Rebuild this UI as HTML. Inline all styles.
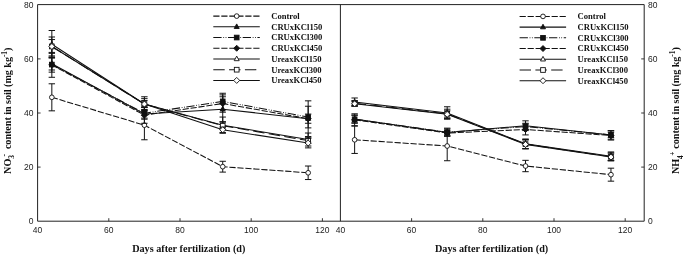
<!DOCTYPE html>
<html><head><meta charset="utf-8"><title>Soil N content</title>
<style>
html,body{margin:0;padding:0;background:#fff}
svg{display:block}
.tk{font-family:"Liberation Sans",sans-serif;font-size:8.5px;fill:#222}
.lg{font-family:"Liberation Serif",serif;font-weight:bold;font-size:8.6px;fill:#111}
.ax{font-family:"Liberation Serif",serif;font-weight:bold;font-size:10.2px;fill:#111}
.ss{font-size:7.4px}
</style></head><body>
<svg width="685" height="257" viewBox="0 0 685 257">
<rect width="685" height="257" fill="#fff"/>
<path d="M37.6 221.2V4.6H644.2V221.2H37.6M340.4 4.6V221.2" fill="none" stroke="#222" stroke-width="1"/>
<path d="M37.6 167.10h3M644.2 167.10h-3M37.6 113.00h3M644.2 113.00h-3M37.6 58.90h3M644.2 58.90h-3M108.80 221.2v-3M180.00 221.2v-3M251.20 221.2v-3M322.40 221.2v-3M411.60 221.2v-3M482.80 221.2v-3M554.00 221.2v-3M625.20 221.2v-3" stroke="#222" stroke-width="0.9" fill="none"/>
<text x="33.4" y="224.05" class="tk" text-anchor="end">0</text>
<text x="648.1" y="224.05" class="tk">0</text>
<text x="33.4" y="169.95" class="tk" text-anchor="end">20</text>
<text x="648.1" y="169.95" class="tk">20</text>
<text x="33.4" y="115.85" class="tk" text-anchor="end">40</text>
<text x="648.1" y="115.85" class="tk">40</text>
<text x="33.4" y="61.75" class="tk" text-anchor="end">60</text>
<text x="648.1" y="61.75" class="tk">60</text>
<text x="33.4" y="7.65" class="tk" text-anchor="end">80</text>
<text x="648.1" y="7.65" class="tk">80</text>
<text x="37.60" y="233.2" class="tk" text-anchor="middle">40</text>
<text x="108.80" y="233.2" class="tk" text-anchor="middle">60</text>
<text x="180.00" y="233.2" class="tk" text-anchor="middle">80</text>
<text x="251.20" y="233.2" class="tk" text-anchor="middle">100</text>
<text x="322.40" y="233.2" class="tk" text-anchor="middle">120</text>
<text x="340.40" y="233.2" class="tk" text-anchor="middle">40</text>
<text x="411.60" y="233.2" class="tk" text-anchor="middle">60</text>
<text x="482.80" y="233.2" class="tk" text-anchor="middle">80</text>
<text x="554.00" y="233.2" class="tk" text-anchor="middle">100</text>
<text x="625.20" y="233.2" class="tk" text-anchor="middle">120</text>
<text x="188.8" y="252.2" class="ax" text-anchor="middle">Days after fertilization (d)</text>
<text x="491.6" y="252.2" class="ax" text-anchor="middle">Days after fertilization (d)</text>
<text transform="translate(10.9 0) rotate(-90)" class="ax" letter-spacing="-0.06"><tspan x="-173.90" y="0">NO</tspan><tspan class="ss" dy="3.4">3</tspan><tspan class="ss" dx="-1.4" dy="-7.8">-</tspan><tspan x="-151.60" y="0"> content in soil (mg kg</tspan><tspan class="ss" dy="-4.4">-1</tspan><tspan dy="4.4">)</tspan></text>
<text transform="translate(679.2 0) rotate(-90)" class="ax" letter-spacing="-0.06"><tspan x="-174.10" y="0">NH</tspan><tspan class="ss" dy="3.4">4</tspan><tspan class="ss" dx="-0.4" dy="-7.8">+</tspan><tspan x="-151.20" y="0"> content in soil (mg kg</tspan><tspan class="ss" dy="-4.4">-1</tspan><tspan dy="4.4">)</tspan></text>
<path d="M51.84 83.79V110.84M48.64 83.79H55.04M48.64 110.84H55.04" stroke="#111" stroke-width="1" fill="none"/>
<path d="M144.40 110.57V139.78M141.20 110.57H147.60M141.20 139.78H147.60" stroke="#111" stroke-width="1" fill="none"/>
<path d="M222.72 161.28V172.10M219.52 161.28H225.92M219.52 172.10H225.92" stroke="#111" stroke-width="1" fill="none"/>
<path d="M308.16 166.02V179.54M304.96 166.02H311.36M304.96 179.54H311.36" stroke="#111" stroke-width="1" fill="none"/>
<polyline points="51.84,97.31 144.40,125.17 222.72,166.69 308.16,172.78" fill="none" stroke="#111" stroke-width="1.05" stroke-dasharray="6.2 1.8"/>
<circle cx="51.84" cy="97.31" r="2.35" fill="#fff" stroke="#111" stroke-width="0.9"/>
<circle cx="144.40" cy="125.17" r="2.35" fill="#fff" stroke="#111" stroke-width="0.9"/>
<circle cx="222.72" cy="166.69" r="2.35" fill="#fff" stroke="#111" stroke-width="0.9"/>
<circle cx="308.16" cy="172.78" r="2.35" fill="#fff" stroke="#111" stroke-width="0.9"/>
<path d="M51.84 57.55V69.99M48.64 57.55H55.04M48.64 69.99H55.04" stroke="#111" stroke-width="1" fill="none"/>
<path d="M144.40 110.02V118.14M141.20 110.02H147.60M141.20 118.14H147.60" stroke="#111" stroke-width="1" fill="none"/>
<path d="M222.72 96.77V121.66M219.52 96.77H225.92M219.52 121.66H225.92" stroke="#111" stroke-width="1" fill="none"/>
<path d="M308.16 100.83V136.53M304.96 100.83H311.36M304.96 136.53H311.36" stroke="#111" stroke-width="1" fill="none"/>
<polyline points="51.84,63.77 144.40,114.08 222.72,109.21 308.16,118.68" fill="none" stroke="#111" stroke-width="1.05"/>
<polygon points="51.84,60.87 54.34,65.47 49.34,65.47" fill="#111" stroke="#111" stroke-width="0.9"/>
<polygon points="144.40,111.18 146.90,115.78 141.90,115.78" fill="#111" stroke="#111" stroke-width="0.9"/>
<polygon points="222.72,106.31 225.22,110.91 220.22,110.91" fill="#111" stroke="#111" stroke-width="0.9"/>
<polygon points="308.16,115.78 310.66,120.38 305.66,120.38" fill="#111" stroke="#111" stroke-width="0.9"/>
<path d="M51.84 57.01V72.15M48.64 57.01H55.04M48.64 72.15H55.04" stroke="#111" stroke-width="1" fill="none"/>
<path d="M144.40 107.32V119.22M141.20 107.32H147.60M141.20 119.22H147.60" stroke="#111" stroke-width="1" fill="none"/>
<path d="M222.72 93.25V109.48M219.52 93.25H225.92M219.52 109.48H225.92" stroke="#111" stroke-width="1" fill="none"/>
<path d="M308.16 106.24V127.88M304.96 106.24H311.36M304.96 127.88H311.36" stroke="#111" stroke-width="1" fill="none"/>
<polyline points="51.84,64.58 144.40,113.27 222.72,101.37 308.16,117.06" fill="none" stroke="#111" stroke-width="1.05" stroke-dasharray="8.3 1.7 0.8 1.5 0.8 1.6"/>
<rect x="49.49" y="62.23" width="4.70" height="4.70" fill="#111" stroke="#111" stroke-width="0.9"/>
<rect x="142.05" y="110.92" width="4.70" height="4.70" fill="#111" stroke="#111" stroke-width="0.9"/>
<rect x="220.37" y="99.02" width="4.70" height="4.70" fill="#111" stroke="#111" stroke-width="0.9"/>
<rect x="305.81" y="114.71" width="4.70" height="4.70" fill="#111" stroke="#111" stroke-width="0.9"/>
<path d="M51.84 52.41V77.29M48.64 52.41H55.04M48.64 77.29H55.04" stroke="#111" stroke-width="1" fill="none"/>
<path d="M144.40 107.05V123.28M141.20 107.05H147.60M141.20 123.28H147.60" stroke="#111" stroke-width="1" fill="none"/>
<path d="M222.72 94.88V112.19M219.52 94.88H225.92M219.52 112.19H225.92" stroke="#111" stroke-width="1" fill="none"/>
<path d="M308.16 114.08V123.28M304.96 114.08H311.36M304.96 123.28H311.36" stroke="#111" stroke-width="1" fill="none"/>
<polyline points="51.84,64.85 144.40,115.16 222.72,103.53 308.16,118.68" fill="none" stroke="#111" stroke-width="1.05" stroke-dasharray="6.2 1.8"/>
<polygon points="51.84,61.85 54.84,64.85 51.84,67.85 48.84,64.85" fill="#111" stroke="#111" stroke-width="0.9"/>
<polygon points="144.40,112.16 147.40,115.16 144.40,118.16 141.40,115.16" fill="#111" stroke="#111" stroke-width="0.9"/>
<polygon points="222.72,100.53 225.72,103.53 222.72,106.53 219.72,103.53" fill="#111" stroke="#111" stroke-width="0.9"/>
<polygon points="308.16,115.68 311.16,118.68 308.16,121.68 305.16,118.68" fill="#111" stroke="#111" stroke-width="0.9"/>
<path d="M51.84 30.50V58.09M48.64 30.50H55.04M48.64 58.09H55.04" stroke="#111" stroke-width="1" fill="none"/>
<path d="M144.40 96.77V111.11M141.20 96.77H147.60M141.20 111.11H147.60" stroke="#111" stroke-width="1" fill="none"/>
<path d="M222.72 117.06V133.29M219.52 117.06H225.92M219.52 133.29H225.92" stroke="#111" stroke-width="1" fill="none"/>
<path d="M308.16 133.02V146.00M304.96 133.02H311.36M304.96 146.00H311.36" stroke="#111" stroke-width="1" fill="none"/>
<polyline points="51.84,44.29 144.40,103.94 222.72,125.17 308.16,139.51" fill="none" stroke="#111" stroke-width="1.05"/>
<polygon points="51.84,41.39 54.34,45.99 49.34,45.99" fill="#fff" stroke="#111" stroke-width="0.9"/>
<polygon points="144.40,101.04 146.90,105.64 141.90,105.64" fill="#fff" stroke="#111" stroke-width="0.9"/>
<polygon points="222.72,122.27 225.22,126.87 220.22,126.87" fill="#fff" stroke="#111" stroke-width="0.9"/>
<polygon points="308.16,136.61 310.66,141.21 305.66,141.21" fill="#fff" stroke="#111" stroke-width="0.9"/>
<path d="M51.84 36.99V55.92M48.64 36.99H55.04M48.64 55.92H55.04" stroke="#111" stroke-width="1" fill="none"/>
<path d="M144.40 98.66V109.48M141.20 98.66H147.60M141.20 109.48H147.60" stroke="#111" stroke-width="1" fill="none"/>
<path d="M222.72 122.20V129.23M219.52 122.20H225.92M219.52 129.23H225.92" stroke="#111" stroke-width="1" fill="none"/>
<path d="M308.16 137.89V143.30M304.96 137.89H311.36M304.96 143.30H311.36" stroke="#111" stroke-width="1" fill="none"/>
<polyline points="51.84,46.46 144.40,104.07 222.72,125.71 308.16,140.59" fill="none" stroke="#111" stroke-width="1.05" stroke-dasharray="11.4 4.4"/>
<rect x="49.49" y="44.11" width="4.70" height="4.70" fill="#fff" stroke="#111" stroke-width="0.9"/>
<rect x="142.05" y="101.72" width="4.70" height="4.70" fill="#fff" stroke="#111" stroke-width="0.9"/>
<rect x="220.37" y="123.36" width="4.70" height="4.70" fill="#fff" stroke="#111" stroke-width="0.9"/>
<rect x="305.81" y="138.24" width="4.70" height="4.70" fill="#fff" stroke="#111" stroke-width="0.9"/>
<path d="M51.84 39.56V53.35M48.64 39.56H55.04M48.64 53.35H55.04" stroke="#111" stroke-width="1" fill="none"/>
<path d="M144.40 100.56V107.59M141.20 100.56H147.60M141.20 107.59H147.60" stroke="#111" stroke-width="1" fill="none"/>
<path d="M222.72 127.07V132.48M219.52 127.07H225.92M219.52 132.48H225.92" stroke="#111" stroke-width="1" fill="none"/>
<path d="M308.16 138.16V147.89M304.96 138.16H311.36M304.96 147.89H311.36" stroke="#111" stroke-width="1" fill="none"/>
<polyline points="51.84,46.46 144.40,104.07 222.72,129.77 308.16,143.03" fill="none" stroke="#111" stroke-width="1.05"/>
<polygon points="51.84,43.46 54.84,46.46 51.84,49.46 48.84,46.46" fill="#fff" stroke="#111" stroke-width="0.9"/>
<polygon points="144.40,101.07 147.40,104.07 144.40,107.07 141.40,104.07" fill="#fff" stroke="#111" stroke-width="0.9"/>
<polygon points="222.72,126.77 225.72,129.77 222.72,132.77 219.72,129.77" fill="#fff" stroke="#111" stroke-width="0.9"/>
<polygon points="308.16,140.03 311.16,143.03 308.16,146.03 305.16,143.03" fill="#fff" stroke="#111" stroke-width="0.9"/>
<path d="M354.64 126.12V153.44M351.44 126.12H357.84M351.44 153.44H357.84" stroke="#111" stroke-width="1" fill="none"/>
<path d="M447.20 131.26V160.74M444.00 131.26H450.40M444.00 160.74H450.40" stroke="#111" stroke-width="1" fill="none"/>
<path d="M525.52 160.34V171.70M522.32 160.34H528.72M522.32 171.70H528.72" stroke="#111" stroke-width="1" fill="none"/>
<path d="M610.96 168.18V181.17M607.76 168.18H614.16M607.76 181.17H614.16" stroke="#111" stroke-width="1" fill="none"/>
<polyline points="354.64,139.78 447.20,146.00 525.52,166.02 610.96,174.67" fill="none" stroke="#111" stroke-width="1.05" stroke-dasharray="6.2 1.8"/>
<circle cx="354.64" cy="139.78" r="2.35" fill="#fff" stroke="#111" stroke-width="0.9"/>
<circle cx="447.20" cy="146.00" r="2.35" fill="#fff" stroke="#111" stroke-width="0.9"/>
<circle cx="525.52" cy="166.02" r="2.35" fill="#fff" stroke="#111" stroke-width="0.9"/>
<circle cx="610.96" cy="174.67" r="2.35" fill="#fff" stroke="#111" stroke-width="0.9"/>
<path d="M354.64 115.16V122.74M351.44 115.16H357.84M351.44 122.74H357.84" stroke="#111" stroke-width="1" fill="none"/>
<path d="M447.20 128.96V135.99M444.00 128.96H450.40M444.00 135.99H450.40" stroke="#111" stroke-width="1" fill="none"/>
<path d="M525.52 120.84V130.58M522.32 120.84H528.72M522.32 130.58H528.72" stroke="#111" stroke-width="1" fill="none"/>
<path d="M610.96 130.58V139.24M607.76 130.58H614.16M607.76 139.24H614.16" stroke="#111" stroke-width="1" fill="none"/>
<polyline points="354.64,118.95 447.20,132.48 525.52,125.71 610.96,134.91" fill="none" stroke="#111" stroke-width="1.05"/>
<polygon points="354.64,116.05 357.14,120.65 352.14,120.65" fill="#111" stroke="#111" stroke-width="0.9"/>
<polygon points="447.20,129.58 449.70,134.18 444.70,134.18" fill="#111" stroke="#111" stroke-width="0.9"/>
<polygon points="525.52,122.81 528.02,127.41 523.02,127.41" fill="#111" stroke="#111" stroke-width="0.9"/>
<polygon points="610.96,132.01 613.46,136.61 608.46,136.61" fill="#111" stroke="#111" stroke-width="0.9"/>
<path d="M354.64 115.16V123.28M351.44 115.16H357.84M351.44 123.28H357.84" stroke="#111" stroke-width="1" fill="none"/>
<path d="M447.20 128.15V136.26M444.00 128.15H450.40M444.00 136.26H450.40" stroke="#111" stroke-width="1" fill="none"/>
<path d="M525.52 123.28V129.77M522.32 123.28H528.72M522.32 129.77H528.72" stroke="#111" stroke-width="1" fill="none"/>
<path d="M610.96 132.21V137.62M607.76 132.21H614.16M607.76 137.62H614.16" stroke="#111" stroke-width="1" fill="none"/>
<polyline points="354.64,119.22 447.20,132.21 525.52,126.52 610.96,134.91" fill="none" stroke="#111" stroke-width="1.05" stroke-dasharray="8.3 1.7 0.8 1.5 0.8 1.6"/>
<rect x="352.29" y="116.87" width="4.70" height="4.70" fill="#111" stroke="#111" stroke-width="0.9"/>
<rect x="444.85" y="129.86" width="4.70" height="4.70" fill="#111" stroke="#111" stroke-width="0.9"/>
<rect x="523.17" y="124.17" width="4.70" height="4.70" fill="#111" stroke="#111" stroke-width="0.9"/>
<rect x="608.61" y="132.56" width="4.70" height="4.70" fill="#111" stroke="#111" stroke-width="0.9"/>
<path d="M354.64 113.81V125.71M351.44 113.81H357.84M351.44 125.71H357.84" stroke="#111" stroke-width="1" fill="none"/>
<path d="M447.20 130.31V135.72M444.00 130.31H450.40M444.00 135.72H450.40" stroke="#111" stroke-width="1" fill="none"/>
<path d="M525.52 124.09V134.91M522.32 124.09H528.72M522.32 134.91H528.72" stroke="#111" stroke-width="1" fill="none"/>
<path d="M610.96 130.85V140.05M607.76 130.85H614.16M607.76 140.05H614.16" stroke="#111" stroke-width="1" fill="none"/>
<polyline points="354.64,119.76 447.20,133.02 525.52,129.50 610.96,135.45" fill="none" stroke="#111" stroke-width="1.05" stroke-dasharray="6.2 1.8"/>
<polygon points="354.64,116.76 357.64,119.76 354.64,122.76 351.64,119.76" fill="#111" stroke="#111" stroke-width="0.9"/>
<polygon points="447.20,130.02 450.20,133.02 447.20,136.02 444.20,133.02" fill="#111" stroke="#111" stroke-width="0.9"/>
<polygon points="525.52,126.50 528.52,129.50 525.52,132.50 522.52,129.50" fill="#111" stroke="#111" stroke-width="0.9"/>
<polygon points="610.96,132.45 613.96,135.45 610.96,138.45 607.96,135.45" fill="#111" stroke="#111" stroke-width="0.9"/>
<path d="M354.64 97.99V105.83M351.44 97.99H357.84M351.44 105.83H357.84" stroke="#111" stroke-width="1" fill="none"/>
<path d="M447.20 106.78V119.22M444.00 106.78H450.40M444.00 119.22H450.40" stroke="#111" stroke-width="1" fill="none"/>
<path d="M525.52 138.97V148.71M522.32 138.97H528.72M522.32 148.71H528.72" stroke="#111" stroke-width="1" fill="none"/>
<path d="M610.96 151.95V160.61M607.76 151.95H614.16M607.76 160.61H614.16" stroke="#111" stroke-width="1" fill="none"/>
<polyline points="354.64,101.91 447.20,113.00 525.52,143.84 610.96,156.28" fill="none" stroke="#111" stroke-width="1.05"/>
<polygon points="354.64,99.01 357.14,103.61 352.14,103.61" fill="#fff" stroke="#111" stroke-width="0.9"/>
<polygon points="447.20,110.10 449.70,114.70 444.70,114.70" fill="#fff" stroke="#111" stroke-width="0.9"/>
<polygon points="525.52,140.94 528.02,145.54 523.02,145.54" fill="#fff" stroke="#111" stroke-width="0.9"/>
<polygon points="610.96,153.38 613.46,157.98 608.46,157.98" fill="#fff" stroke="#111" stroke-width="0.9"/>
<path d="M354.64 100.56V105.97M351.44 100.56H357.84M351.44 105.97H357.84" stroke="#111" stroke-width="1" fill="none"/>
<path d="M447.20 109.21V118.41M444.00 109.21H450.40M444.00 118.41H450.40" stroke="#111" stroke-width="1" fill="none"/>
<path d="M525.52 139.51V148.71M522.32 139.51H528.72M522.32 148.71H528.72" stroke="#111" stroke-width="1" fill="none"/>
<path d="M610.96 152.76V160.88M607.76 152.76H614.16M607.76 160.88H614.16" stroke="#111" stroke-width="1" fill="none"/>
<polyline points="354.64,103.26 447.20,113.81 525.52,144.11 610.96,156.82" fill="none" stroke="#111" stroke-width="1.05" stroke-dasharray="11.4 4.4"/>
<rect x="352.29" y="100.91" width="4.70" height="4.70" fill="#fff" stroke="#111" stroke-width="0.9"/>
<rect x="444.85" y="111.46" width="4.70" height="4.70" fill="#fff" stroke="#111" stroke-width="0.9"/>
<rect x="523.17" y="141.76" width="4.70" height="4.70" fill="#fff" stroke="#111" stroke-width="0.9"/>
<rect x="608.61" y="154.47" width="4.70" height="4.70" fill="#fff" stroke="#111" stroke-width="0.9"/>
<path d="M354.64 101.37V106.24M351.44 101.37H357.84M351.44 106.24H357.84" stroke="#111" stroke-width="1" fill="none"/>
<path d="M447.20 110.84V117.87M444.00 110.84H450.40M444.00 117.87H450.40" stroke="#111" stroke-width="1" fill="none"/>
<path d="M525.52 140.05V148.71M522.32 140.05H528.72M522.32 148.71H528.72" stroke="#111" stroke-width="1" fill="none"/>
<path d="M610.96 153.85V160.34M607.76 153.85H614.16M607.76 160.34H614.16" stroke="#111" stroke-width="1" fill="none"/>
<polyline points="354.64,103.80 447.20,114.35 525.52,144.38 610.96,157.09" fill="none" stroke="#111" stroke-width="1.05"/>
<polygon points="354.64,100.80 357.64,103.80 354.64,106.80 351.64,103.80" fill="#fff" stroke="#111" stroke-width="0.9"/>
<polygon points="447.20,111.35 450.20,114.35 447.20,117.35 444.20,114.35" fill="#fff" stroke="#111" stroke-width="0.9"/>
<polygon points="525.52,141.38 528.52,144.38 525.52,147.38 522.52,144.38" fill="#fff" stroke="#111" stroke-width="0.9"/>
<polygon points="610.96,154.09 613.96,157.09 610.96,160.09 607.96,157.09" fill="#fff" stroke="#111" stroke-width="0.9"/>
<line x1="213.30" y1="16.10" x2="259.80" y2="16.10" stroke="#111" stroke-width="1.05" stroke-dasharray="6.2 1.8"/>
<circle cx="236.70" cy="16.10" r="2.35" fill="#fff" stroke="#111" stroke-width="0.9"/>
<text x="271.20" y="19.00" class="lg">Control</text>
<line x1="213.30" y1="26.82" x2="259.80" y2="26.82" stroke="#111" stroke-width="1.05"/>
<polygon points="236.70,23.92 239.20,28.52 234.20,28.52" fill="#111" stroke="#111" stroke-width="0.9"/>
<text x="271.20" y="29.72" class="lg">CRUxKCl150</text>
<line x1="213.30" y1="37.54" x2="259.80" y2="37.54" stroke="#111" stroke-width="1.05" stroke-dasharray="8.3 1.7 0.8 1.5 0.8 1.6"/>
<rect x="234.35" y="35.19" width="4.70" height="4.70" fill="#111" stroke="#111" stroke-width="0.9"/>
<text x="271.20" y="40.44" class="lg">CRUxKCl300</text>
<line x1="213.30" y1="48.26" x2="259.80" y2="48.26" stroke="#111" stroke-width="1.05" stroke-dasharray="6.2 1.8"/>
<polygon points="236.70,45.26 239.70,48.26 236.70,51.26 233.70,48.26" fill="#111" stroke="#111" stroke-width="0.9"/>
<text x="271.20" y="51.16" class="lg">CRUxKCl450</text>
<line x1="213.30" y1="58.98" x2="259.80" y2="58.98" stroke="#111" stroke-width="1.05"/>
<polygon points="236.70,56.08 239.20,60.68 234.20,60.68" fill="#fff" stroke="#111" stroke-width="0.9"/>
<text x="271.20" y="61.88" class="lg">UreaxKCl150</text>
<line x1="213.30" y1="69.70" x2="259.80" y2="69.70" stroke="#111" stroke-width="1.05" stroke-dasharray="11.4 4.4"/>
<rect x="234.35" y="67.35" width="4.70" height="4.70" fill="#fff" stroke="#111" stroke-width="0.9"/>
<text x="271.20" y="72.60" class="lg">UreaxKCl300</text>
<line x1="213.30" y1="80.42" x2="259.80" y2="80.42" stroke="#111" stroke-width="1.05"/>
<polygon points="236.70,77.42 239.70,80.42 236.70,83.42 233.70,80.42" fill="#fff" stroke="#111" stroke-width="0.9"/>
<text x="271.20" y="83.32" class="lg">UreaxKCl450</text>
<line x1="519.60" y1="16.40" x2="566.10" y2="16.40" stroke="#111" stroke-width="1.05" stroke-dasharray="6.2 1.8"/>
<circle cx="543.00" cy="16.40" r="2.35" fill="#fff" stroke="#111" stroke-width="0.9"/>
<text x="577.50" y="19.30" class="lg">Control</text>
<line x1="519.60" y1="27.12" x2="566.10" y2="27.12" stroke="#111" stroke-width="1.05"/>
<polygon points="543.00,24.22 545.50,28.82 540.50,28.82" fill="#111" stroke="#111" stroke-width="0.9"/>
<text x="577.50" y="30.02" class="lg">CRUxKCl150</text>
<line x1="519.60" y1="37.84" x2="566.10" y2="37.84" stroke="#111" stroke-width="1.05" stroke-dasharray="8.3 1.7 0.8 1.5 0.8 1.6"/>
<rect x="540.65" y="35.49" width="4.70" height="4.70" fill="#111" stroke="#111" stroke-width="0.9"/>
<text x="577.50" y="40.74" class="lg">CRUxKCl300</text>
<line x1="519.60" y1="48.56" x2="566.10" y2="48.56" stroke="#111" stroke-width="1.05" stroke-dasharray="6.2 1.8"/>
<polygon points="543.00,45.56 546.00,48.56 543.00,51.56 540.00,48.56" fill="#111" stroke="#111" stroke-width="0.9"/>
<text x="577.50" y="51.46" class="lg">CRUxKCl450</text>
<line x1="519.60" y1="59.28" x2="566.10" y2="59.28" stroke="#111" stroke-width="1.05"/>
<polygon points="543.00,56.38 545.50,60.98 540.50,60.98" fill="#fff" stroke="#111" stroke-width="0.9"/>
<text x="577.50" y="62.18" class="lg">UreaxKCl150</text>
<line x1="519.60" y1="70.00" x2="566.10" y2="70.00" stroke="#111" stroke-width="1.05" stroke-dasharray="11.4 4.4"/>
<rect x="540.65" y="67.65" width="4.70" height="4.70" fill="#fff" stroke="#111" stroke-width="0.9"/>
<text x="577.50" y="72.90" class="lg">UreaxKCl300</text>
<line x1="519.60" y1="80.72" x2="566.10" y2="80.72" stroke="#111" stroke-width="1.05"/>
<polygon points="543.00,77.72 546.00,80.72 543.00,83.72 540.00,80.72" fill="#fff" stroke="#111" stroke-width="0.9"/>
<text x="577.50" y="83.62" class="lg">UreaxKCl450</text>
</svg>
</body></html>
